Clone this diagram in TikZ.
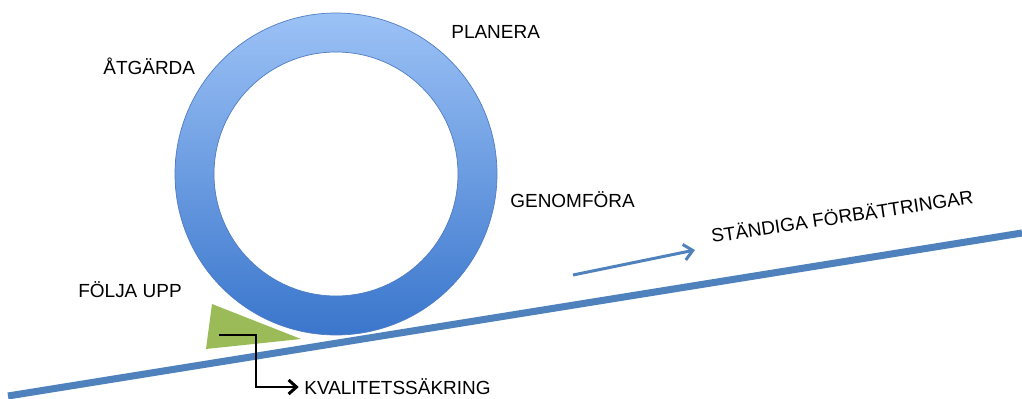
\documentclass[tikz,border=0pt]{standalone}
\usepackage{fontspec}
\setmainfont{Liberation Sans}
\usetikzlibrary{arrows.meta}
\definecolor{ringtop}{RGB}{156,194,246}
\definecolor{ringbot}{RGB}{58,118,204}
\definecolor{ringline}{RGB}{80,125,195}
\definecolor{slopeblue}{RGB}{79,129,189}
\definecolor{wedgegreen}{RGB}{155,187,89}
\tikzset{
  steplabel/.style={inner sep=0pt, anchor=base west, font=\fontsize{10.8}{13}\selectfont},
}
\begin{document}
\begin{tikzpicture}[x=0.02cm,y=-0.02cm]
\useasboundingbox (0,0) rectangle (1022,399);

	% the ring
	\shade[top color=ringtop, bottom color=ringbot, draw=ringline, line width=0.4pt, even odd rule]
	  (336,174) circle[radius=161] (336,174) circle[radius=122];

	% the slope
	\coordinate (slopeL) at (8,396);
	\coordinate (slopeR) at (1022,233);
	\draw[slopeblue, line width=4pt] (slopeL) -- (slopeR);

	% the wedge under the ring
	\fill[wedgegreen] (212,304) -- (301,339) -- (206,349) -- cycle;
	\coordinate (wedge) at (219,335);

	% labels
	\node[steplabel] (planera) at (451,38) {PLANERA};
	\node[steplabel] (atgarda) at (103,74) {ÅTGÄRDA};
	\node[steplabel] (genomfora) at (510,207) {GENOMFÖRA};
	\node[steplabel] (foljaupp) at (78,297) {FÖLJA UPP};
	\node[steplabel, anchor=west] (kvalitet) at (304,387) {KVALITETSSÄKRING};
	\node[steplabel, rotate=8.5] (standiga) at (712,243) {STÄNDIGA FÖRBÄTTRINGAR};

	% arrows
	\coordinate (upL) at (573,275);
	\coordinate (upR) at (695,250);
	\draw[slopeblue, line width=1.7pt, -{Straight Barb[length=5pt,width=9pt]}] (upL) -- (upR);
	\draw[black, line width=1.7pt, -{Straight Barb[length=4.5pt,width=8pt]}]
	  (wedge) -- (256,335) |- ([xshift=-3pt]kvalitet.west);

\end{tikzpicture}
\end{document}
